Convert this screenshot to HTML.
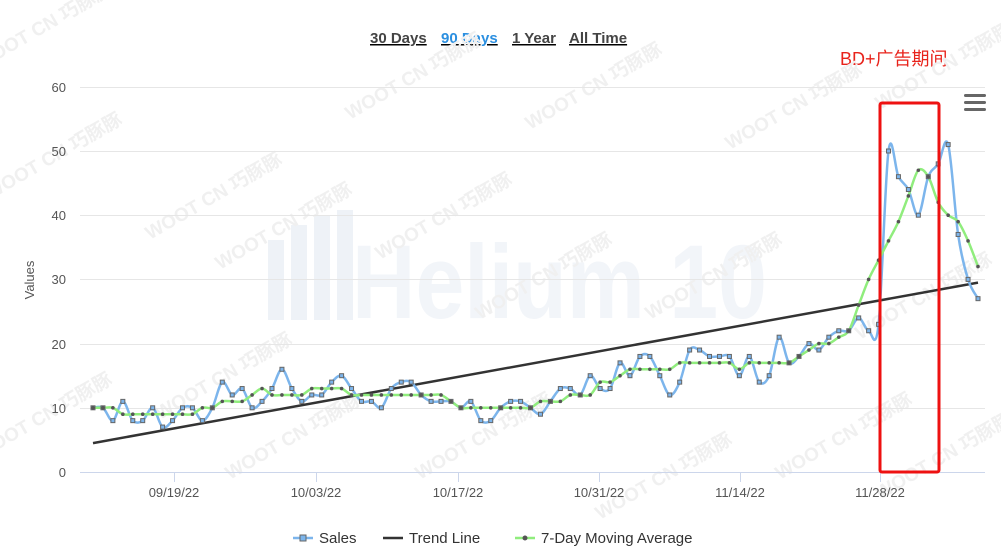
<!DOCTYPE html>
<html><head><meta charset="utf-8"><style>
body{margin:0;background:#fff;width:1001px;height:551px;overflow:hidden;font-family:"Liberation Sans","Noto Sans CJK SC",sans-serif}
</style></head><body>
<svg id="s" width="1001" height="551" xmlns="http://www.w3.org/2000/svg" font-family="Liberation Sans, Noto Sans CJK SC, sans-serif">
<g font-size="15" font-weight="bold" text-decoration="underline">
<text x="370" y="43" fill="#444">30 Days</text>
<text x="441" y="43" fill="#2b8fe0">90 Days</text>
<text x="512" y="43" fill="#444">1 Year</text>
<text x="569" y="43" fill="#444">All Time</text>
</g>
<text x="840" y="65" fill="#e8231b" font-size="18">BD+广告期间</text>
<text x="352" y="318" fill="#f2f5f9" font-size="105" font-weight="bold" textLength="415" lengthAdjust="spacingAndGlyphs">Helium 10</text>
<g fill="#eef2f7"><rect x="268" y="240" width="16" height="80"/><rect x="291" y="225" width="16" height="95"/><rect x="314" y="215" width="16" height="105"/><rect x="337" y="210" width="16" height="110"/></g>
<g id="wm" fill="#f0f0f0" font-size="19" font-weight="bold"></g>
<g stroke="#e6e6e6" stroke-width="1">
<line x1="80" x2="985" y1="87.5" y2="87.5"/><line x1="80" x2="985" y1="151.5" y2="151.5"/><line x1="80" x2="985" y1="215.5" y2="215.5"/><line x1="80" x2="985" y1="279.5" y2="279.5"/><line x1="80" x2="985" y1="344.5" y2="344.5"/><line x1="80" x2="985" y1="408.5" y2="408.5"/>
</g>
<line x1="80" x2="985" y1="472.5" y2="472.5" stroke="#ccd6eb"/>
<g stroke="#ccd6eb"><line x1="174.5" x2="174.5" y1="472" y2="482"/><line x1="316.5" x2="316.5" y1="472" y2="482"/><line x1="458.5" x2="458.5" y1="472" y2="482"/><line x1="599.5" x2="599.5" y1="472" y2="482"/><line x1="740.5" x2="740.5" y1="472" y2="482"/><line x1="880.5" x2="880.5" y1="472" y2="482"/></g>
<g font-size="13" fill="#555" text-anchor="end">
<text x="66" y="92">60</text><text x="66" y="156">50</text><text x="66" y="220">40</text><text x="66" y="284">30</text><text x="66" y="349">20</text><text x="66" y="413">10</text><text x="66" y="477">0</text>
</g>
<g font-size="13" fill="#555" text-anchor="middle">
<text x="174" y="497">09/19/22</text><text x="316" y="497">10/03/22</text><text x="458" y="497">10/17/22</text><text x="599" y="497">10/31/22</text><text x="740" y="497">11/14/22</text><text x="880" y="497">11/28/22</text>
</g>
<text transform="translate(34,280) rotate(-90)" font-size="13" fill="#555" text-anchor="middle">Values</text>
<line x1="93" y1="443.1" x2="978" y2="282.6" stroke="#333" stroke-width="2.5"/>
<path id="sales" fill="none" stroke="#7cb5ec" stroke-width="2.5"/>
<path id="ma" fill="none" stroke="#90ed7d" stroke-width="2.5"/>
<g id="mk"></g>
<rect x="880" y="103" width="59" height="369" fill="none" stroke="#ee1111" stroke-width="3" rx="2"/>
<g fill="#666"><rect x="964" y="94" width="22" height="3" rx="1.5"/><rect x="964" y="101" width="22" height="3" rx="1.5"/><rect x="964" y="108" width="22" height="3" rx="1.5"/></g>
<g font-size="15" fill="#333">
<line x1="293" x2="313" y1="538" y2="538" stroke="#7cb5ec" stroke-width="2.5"/><rect x="300" y="535" width="6" height="6" fill="#7cb5ec" stroke="#666"/>
<text x="319" y="543">Sales</text>
<line x1="383" x2="403" y1="538" y2="538" stroke="#333" stroke-width="2.5"/>
<text x="409" y="543">Trend Line</text>
<line x1="515" x2="535" y1="538" y2="538" stroke="#90ed7d" stroke-width="2.5"/><circle cx="525" cy="538" r="2.5" fill="#555"/>
<text x="541" y="543">7-Day Moving Average</text>
</g>
</svg>
<script>
var S=[10,10,8,11,8,8,10,7,8,10,10,8,10,14,12,13,10,11,13,16,13,11,12,12,14,15,13,11,11,10,13,14,14,12,11,11,11,10,11,8,8,10,11,11,10,9,11,13,13,12,15,13,13,17,15,18,18,15,12,14,19,19,18,18,18,15,18,14,15,21,17,18,20,19,21,22,22,24,22,23,50,46,44,40,46,48,51,37,30,27];
var M=[10,10,10,9,9,9,9,9,9,9,9,10,10,11,11,11,12,13,12,12,12,12,13,13,13,13,12,12,12,12,12,12,12,12,12,12,11,10,10,10,10,10,10,10,10,11,11,11,12,12,12,14,14,15,16,16,16,16,16,17,17,17,17,17,17,16,17,17,17,17,17,18,19,20,20,21,22,26,30,33,36,39,43,47,46,42,40,39,36,32];
function pts(a){var n=a.length;return a.map(function(v,i){return [93+i*885/(n-1),472-v*6.42]})}
function path(p){var d="M"+p[0][0]+","+p[0][1];for(var i=0;i<p.length-1;i++){var p0=p[i-1]||p[i],p1=p[i],p2=p[i+1],p3=p[i+2]||p2;var t=6;d+=" C"+(p1[0]+(p2[0]-p0[0])/t)+","+(p1[1]+(p2[1]-p0[1])/t)+" "+(p2[0]-(p3[0]-p1[0])/t)+","+(p2[1]-(p3[1]-p1[1])/t)+" "+p2[0]+","+p2[1];}return d}
var ps=pts(S),pm=pts(M);
document.getElementById('sales').setAttribute('d',path(ps));
document.getElementById('ma').setAttribute('d',path(pm));
var mk="";ps.forEach(function(p){mk+='<rect x="'+(p[0]-2)+'" y="'+(p[1]-2)+'" width="4" height="4" fill="#7cb5ec" stroke="#666" stroke-width="1"/>'});
pm.forEach(function(p){mk+='<circle cx="'+p[0]+'" cy="'+p[1]+'" r="1.8" fill="#555"/>'});
document.getElementById('mk').innerHTML=mk;
var w="",pos=[[-20,70],[150,240],[350,120],[530,130],[730,150],[-10,200],[220,270],[380,260],[480,320],[650,320],[860,340],[-20,460],[160,420],[230,480],[420,480],[600,520],[780,480],[880,500],[880,110]];
pos.forEach(function(p){w+='<text transform="translate('+p[0]+','+p[1]+') rotate(-30)">WOOT CN 巧豚豚</text>'});
document.getElementById('wm').innerHTML=w;
</script>
</body></html>
